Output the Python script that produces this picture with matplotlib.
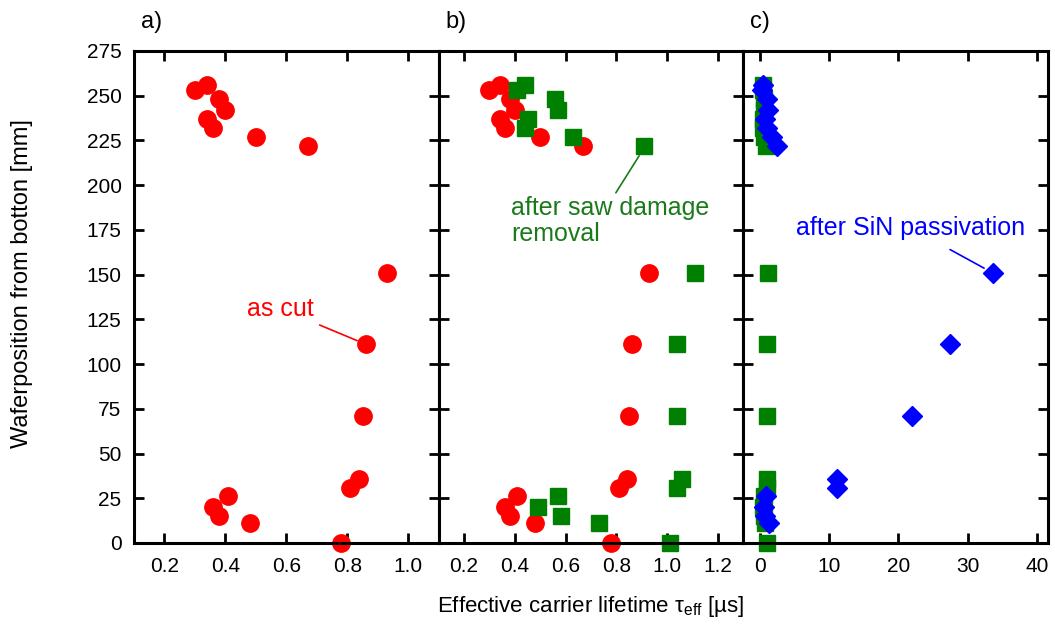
import matplotlib
matplotlib.use("Agg")
import matplotlib.pyplot as plt

plt.rcParams['font.family'] = ['Liberation Sans', 'DejaVu Sans']
plt.rcParams['mathtext.fontset'] = 'custom'
plt.rcParams['mathtext.rm'] = 'Liberation Sans'

# wafer position from bottom [mm]
pos = [256, 253, 248, 242, 237, 232, 227, 222, 151, 111, 71, 36, 31, 26, 20, 15, 11, 0]

# effective lifetime [us] per processing step
tau_cut = [0.34, 0.30, 0.38, 0.40, 0.34, 0.36, 0.50, 0.67, 0.93, 0.86, 0.85,
           0.84, 0.81, 0.41, 0.36, 0.38, 0.48, 0.78]
tau_sdr = [0.44, 0.41, 0.56, 0.57, 0.45, 0.44, 0.63, 0.91, 1.11, 1.04, 1.04,
           1.06, 1.04, 0.57, 0.49, 0.58, 0.73, 1.01]

# SiN passivated samples (no value at 0 mm)
pos_sin = [256, 253, 248, 242, 237, 232, 227, 222, 151, 111, 71, 36, 31, 26, 20, 15, 11]
tau_sin = [0.5, 0.3, 1.0, 1.2, 0.7, 1.0, 1.7, 2.4, 33.6, 27.5, 21.9,
           11.1, 11.1, 0.9, 0.6, 0.7, 1.3]

red = '#ff0000'
green = '#008000'
blue = '#0000ff'

fig = plt.figure(figsize=(10.55, 6.26), dpi=100)
W, H = 1055.0, 626.0
left, right, top, bottom = 134, 1048, 51, 543
pw = (right - left) / 3.0

axes = []
for i in range(3):
    ax = fig.add_axes([(left + i * pw) / W, (H - bottom) / H, pw / W, (bottom - top) / H])
    axes.append(ax)

ax1, ax2, ax3 = axes

ax1.plot(tau_cut, pos, 'o', color=red, ms=12.5, mec=red, zorder=3, clip_on=False)

ax2.plot(tau_cut, pos, 'o', color=red, ms=12.5, mec=red, zorder=3, clip_on=False)
ax2.plot(tau_sdr, pos, 's', color=green, ms=11, mec=green, zorder=4, clip_on=False)

ax3.plot(tau_sdr, pos, 's', color=green, ms=11, mec=green, zorder=3, clip_on=False)
ax3.plot(tau_sin, pos_sin, 'D', color=blue, ms=10, mec=blue, zorder=4, clip_on=False)

ax1.set_xlim(0.1, 1.1)
ax1.set_xticks([0.2, 0.4, 0.6, 0.8, 1.0])
ax2.set_xlim(0.1, 1.3)
ax2.set_xticks([0.2, 0.4, 0.6, 0.8, 1.0, 1.2])
ax3.set_xlim(-2.4, 41.6)
ax3.set_xticks([0, 10, 20, 30, 40])

for i, ax in enumerate(axes):
    ax.set_ylim(0, 275)
    ax.set_yticks(range(0, 276, 25))
    ax.tick_params(direction='in', length=7, width=2, top=True, right=True,
                   labelsize=15, pad=9, colors='black')
    ax.tick_params(axis='x', pad=10)
    for s in ax.spines.values():
        s.set_linewidth(2.2)
        s.set_zorder(5)
    if i > 0:
        ax.tick_params(labelleft=False)

ax1.set_ylabel('Waferposition from botton [mm]', fontsize=17)
ax1.yaxis.set_label_coords(-0.33, 0.528)
ax2.set_xlabel(r'Effective carrier lifetime τ$_{\mathrm{eff}}$ [µs]', fontsize=16, labelpad=13)

# panel letters
for i, letter in enumerate(['a)', 'b)', 'c)']):
    fig.text((left + i * pw + 7) / W, 1 - 22 / H, letter, fontsize=17, va='center', ha='left')

# labels with leader lines
ax1.annotate('as cut', xy=(0.862, 111), xytext=(0.69, 131),
             color=red, fontsize=18, ha='right', va='center',
             arrowprops=dict(arrowstyle='-', color=red, lw=1.2, shrinkA=3, shrinkB=7))
ax2.annotate('after saw damage\nremoval', xy=(0.91, 221), xytext=(0.385, 180),
             color='#1a7a1a', fontsize=18, ha='left', va='center', linespacing=1.15,
             arrowprops=dict(arrowstyle='-', color='#1a7a1a', lw=1.2, shrinkA=0, shrinkB=7,
                             relpos=(0.52, 1.0)))
ax3.annotate('after SiN passivation', xy=(33.6, 151), xytext=(21.8, 176),
             color=blue, fontsize=18, ha='center', va='center',
             arrowprops=dict(arrowstyle='-', color=blue, lw=1.2, shrinkA=10, shrinkB=7))

fig.savefig('out.png', dpi=100)
